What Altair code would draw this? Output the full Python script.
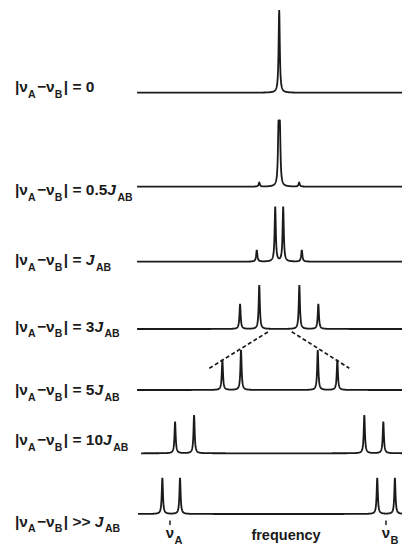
import numpy as np
import pandas as pd
import altair as alt

# ---------------- data (frequencies in units of J_AB, centred on the mean shift) -------------
trace_ids = ["0", "0.5J", "J", "3J", "5J", "10J", ">>J"]
trace_offset = [453.3, 359.3, 284.3, 217.0, 156.0, 92.7, 32.0]      # stacking level of each baseline
trace_start = [-7.48, -7.48, -7.48, -7.48, -7.48, -7.27, -7.43]

peak_pos = [
    [0.0],
    [-1.05, -0.035, 0.035, 1.05],
    [-1.18, -0.21, 0.21, 1.19],
    [-2.06, -1.05, 1.06, 2.06],
    [-2.99, -2.01, 2.03, 3.06],
    [-5.48, -4.48, 4.48, 5.48],
    [-6.15, -5.22, 5.16, 6.09],
]
peak_height = [
    [82.7],
    [4.0, 55.0, 55.0, 4.0],
    [11.7, 54.7, 54.7, 11.7],
    [25.0, 44.0, 44.0, 25.0],
    [30.0, 40.0, 40.0, 30.0],
    [31.6, 38.3, 38.3, 31.6],
    [36.0, 36.0, 36.0, 36.0],
]
half_width = 0.037  # Lorentzian half width at half maximum (J units)

# dashed "roof" guide lines between the 3J and 5J traces
dash_x = [[-3.68, -0.574], [0.658, 3.69]]
dash_y = [[177.7, 214.3], [214.3, 177.7]]

# chemical shift markers under the last trace
shift_names = ["A", "B"]
shift_pos = [-5.75, 5.62]
tick_y = [25.5, 21.0]

# left labels
label_base = [453.7, 351.0, 281.0, 214.3, 151.0, 101.0, 19.3]
label_value = ["| = 0", "| = 0.5", "| = ", "| = 3", "| = 5", "| = 10", "| >> "]
label_has_J = [False, True, True, True, True, True, True]

# ---------------- build tables -------------
W_PX = 394
H_PX = 538
X_MIN = (8 - 279.2) / 19.0
X_MAX = (8 + W_PX - 279.2) / 19.0
trace_end = X_MAX

def px_to_f(px):
    return X_MIN + px * (X_MAX - X_MIN) / W_PX

rows = []
for tid, off, st, pos, hts in zip(trace_ids, trace_offset, trace_start, peak_pos, peak_height):
    xs = [np.arange(st, trace_end, 0.1), np.array([st, trace_end])]
    for p in pos:
        xs.append(p + np.linspace(-0.6, 0.6, 121))
    xs = np.unique(np.concatenate(xs))
    xs = xs[(xs >= st) & (xs <= trace_end)]
    y = np.zeros_like(xs)
    for p, h in zip(pos, hts):
        y += h * half_width ** 2 / ((xs - p) ** 2 + half_width ** 2)
    for a, b in zip(xs, y):
        rows.append({"trace": tid, "f": float(a), "y": float(off + b)})
spec = pd.DataFrame(rows)

dash_rows = []
for i, (xx, yy) in enumerate(zip(dash_x, dash_y)):
    for a, b in zip(xx, yy):
        dash_rows.append({"seg": i, "f": a, "y": b})
dash_df = pd.DataFrame(dash_rows)

tick_df = pd.DataFrame({"f": shift_pos, "y": [tick_y[0]] * 2, "y2": [tick_y[1]] * 2})

# text layout from font advance widths (Liberation Sans Bold)
ADV = {'|': 0.280, 'ν': 0.556, '−': 0.584, ' ': 0.278, '=': 0.584, '>': 0.584,
       '.': 0.278, 'J': 0.556, 'A': 0.722, 'B': 0.722}
def adv(s, size):
    return sum(ADV.get(c, 0.556) for c in s) * size

MAIN, SUB = 15.5, 10.5
seg_rows = []
for base, val, hasj in zip(label_base, label_value, label_has_J):
    segs = [("|ν", "m"), ("A", "s"), ("−ν", "m"), ("B", "s"), (val, "m")]
    if hasj:
        segs += [("J", "i"), ("AB", "s")]
    x = 7.0
    for txt, sty in segs:
        size = SUB if sty == "s" else MAIN
        seg_rows.append({"text": txt, "style": sty, "f": px_to_f(x),
                         "y": base - (5.5 if sty == "s" else 0.0)})
        x += adv(txt, size) + (1.5 if sty == "s" else 0) + (1.5 if sty == "i" else 0)
seg_df = pd.DataFrame(seg_rows)

bottom_nu = pd.DataFrame({"f": shift_pos, "text": ["ν", "ν"], "y": [7.7, 7.7]})
bottom_sub = pd.DataFrame({"f": [p + 0.24 for p in shift_pos], "text": shift_names, "y": [2.5, 2.5]})
freq_df = pd.DataFrame({"f": [0.36], "text": ["frequency"], "y": [6.0]})

# ---------------- chart -------------
xs = alt.Scale(domain=[X_MIN, X_MAX], nice=False, zero=False)
ys = alt.Scale(domain=[0, H_PX], nice=False, zero=False)
X = lambda: alt.X("f:Q", scale=xs, axis=None)
Y = lambda: alt.Y("y:Q", scale=ys, axis=None)
INK = "#1a1a1a"

lines = alt.Chart(spec).mark_line(color=INK, strokeWidth=1.8, interpolate="linear").encode(
    x=X(), y=Y(), detail="trace:N", order="f:Q")
dashes = alt.Chart(dash_df).mark_line(color=INK, strokeWidth=1.7, strokeDash=[4, 2.5]).encode(
    x=X(), y=Y(), detail="seg:N")
ticks = alt.Chart(tick_df).mark_rule(color=INK, strokeWidth=1.5).encode(x=X(), y=Y(), y2="y2:Q")

def text_layer(df, size, style="normal", align="left", weight="bold"):
    return alt.Chart(df).mark_text(font="Liberation Sans", fontSize=size, fontWeight=weight,
                                   fontStyle=style, align=align, baseline="alphabetic",
                                   color=INK).encode(x=X(), y=Y(), text="text:N")

t_main = text_layer(seg_df[seg_df["style"] == "m"], MAIN)
t_sub = text_layer(seg_df[seg_df["style"] == "s"], SUB)
t_it = text_layer(seg_df[seg_df["style"] == "i"], MAIN, style="italic")
b_nu = text_layer(bottom_nu, 15, align="center")
b_sub = text_layer(bottom_sub, 11)
b_freq = text_layer(freq_df, 14.5, align="center")

chart = alt.layer(lines, dashes, ticks, t_main, t_sub, t_it, b_nu, b_sub, b_freq).properties(
    width=W_PX, height=H_PX, padding=0, autosize=alt.AutoSizeParams(type="none"),
    background="white"
).configure_view(stroke=None)

chart.save("out.html", embed_options={"renderer": "svg", "actions": False})
